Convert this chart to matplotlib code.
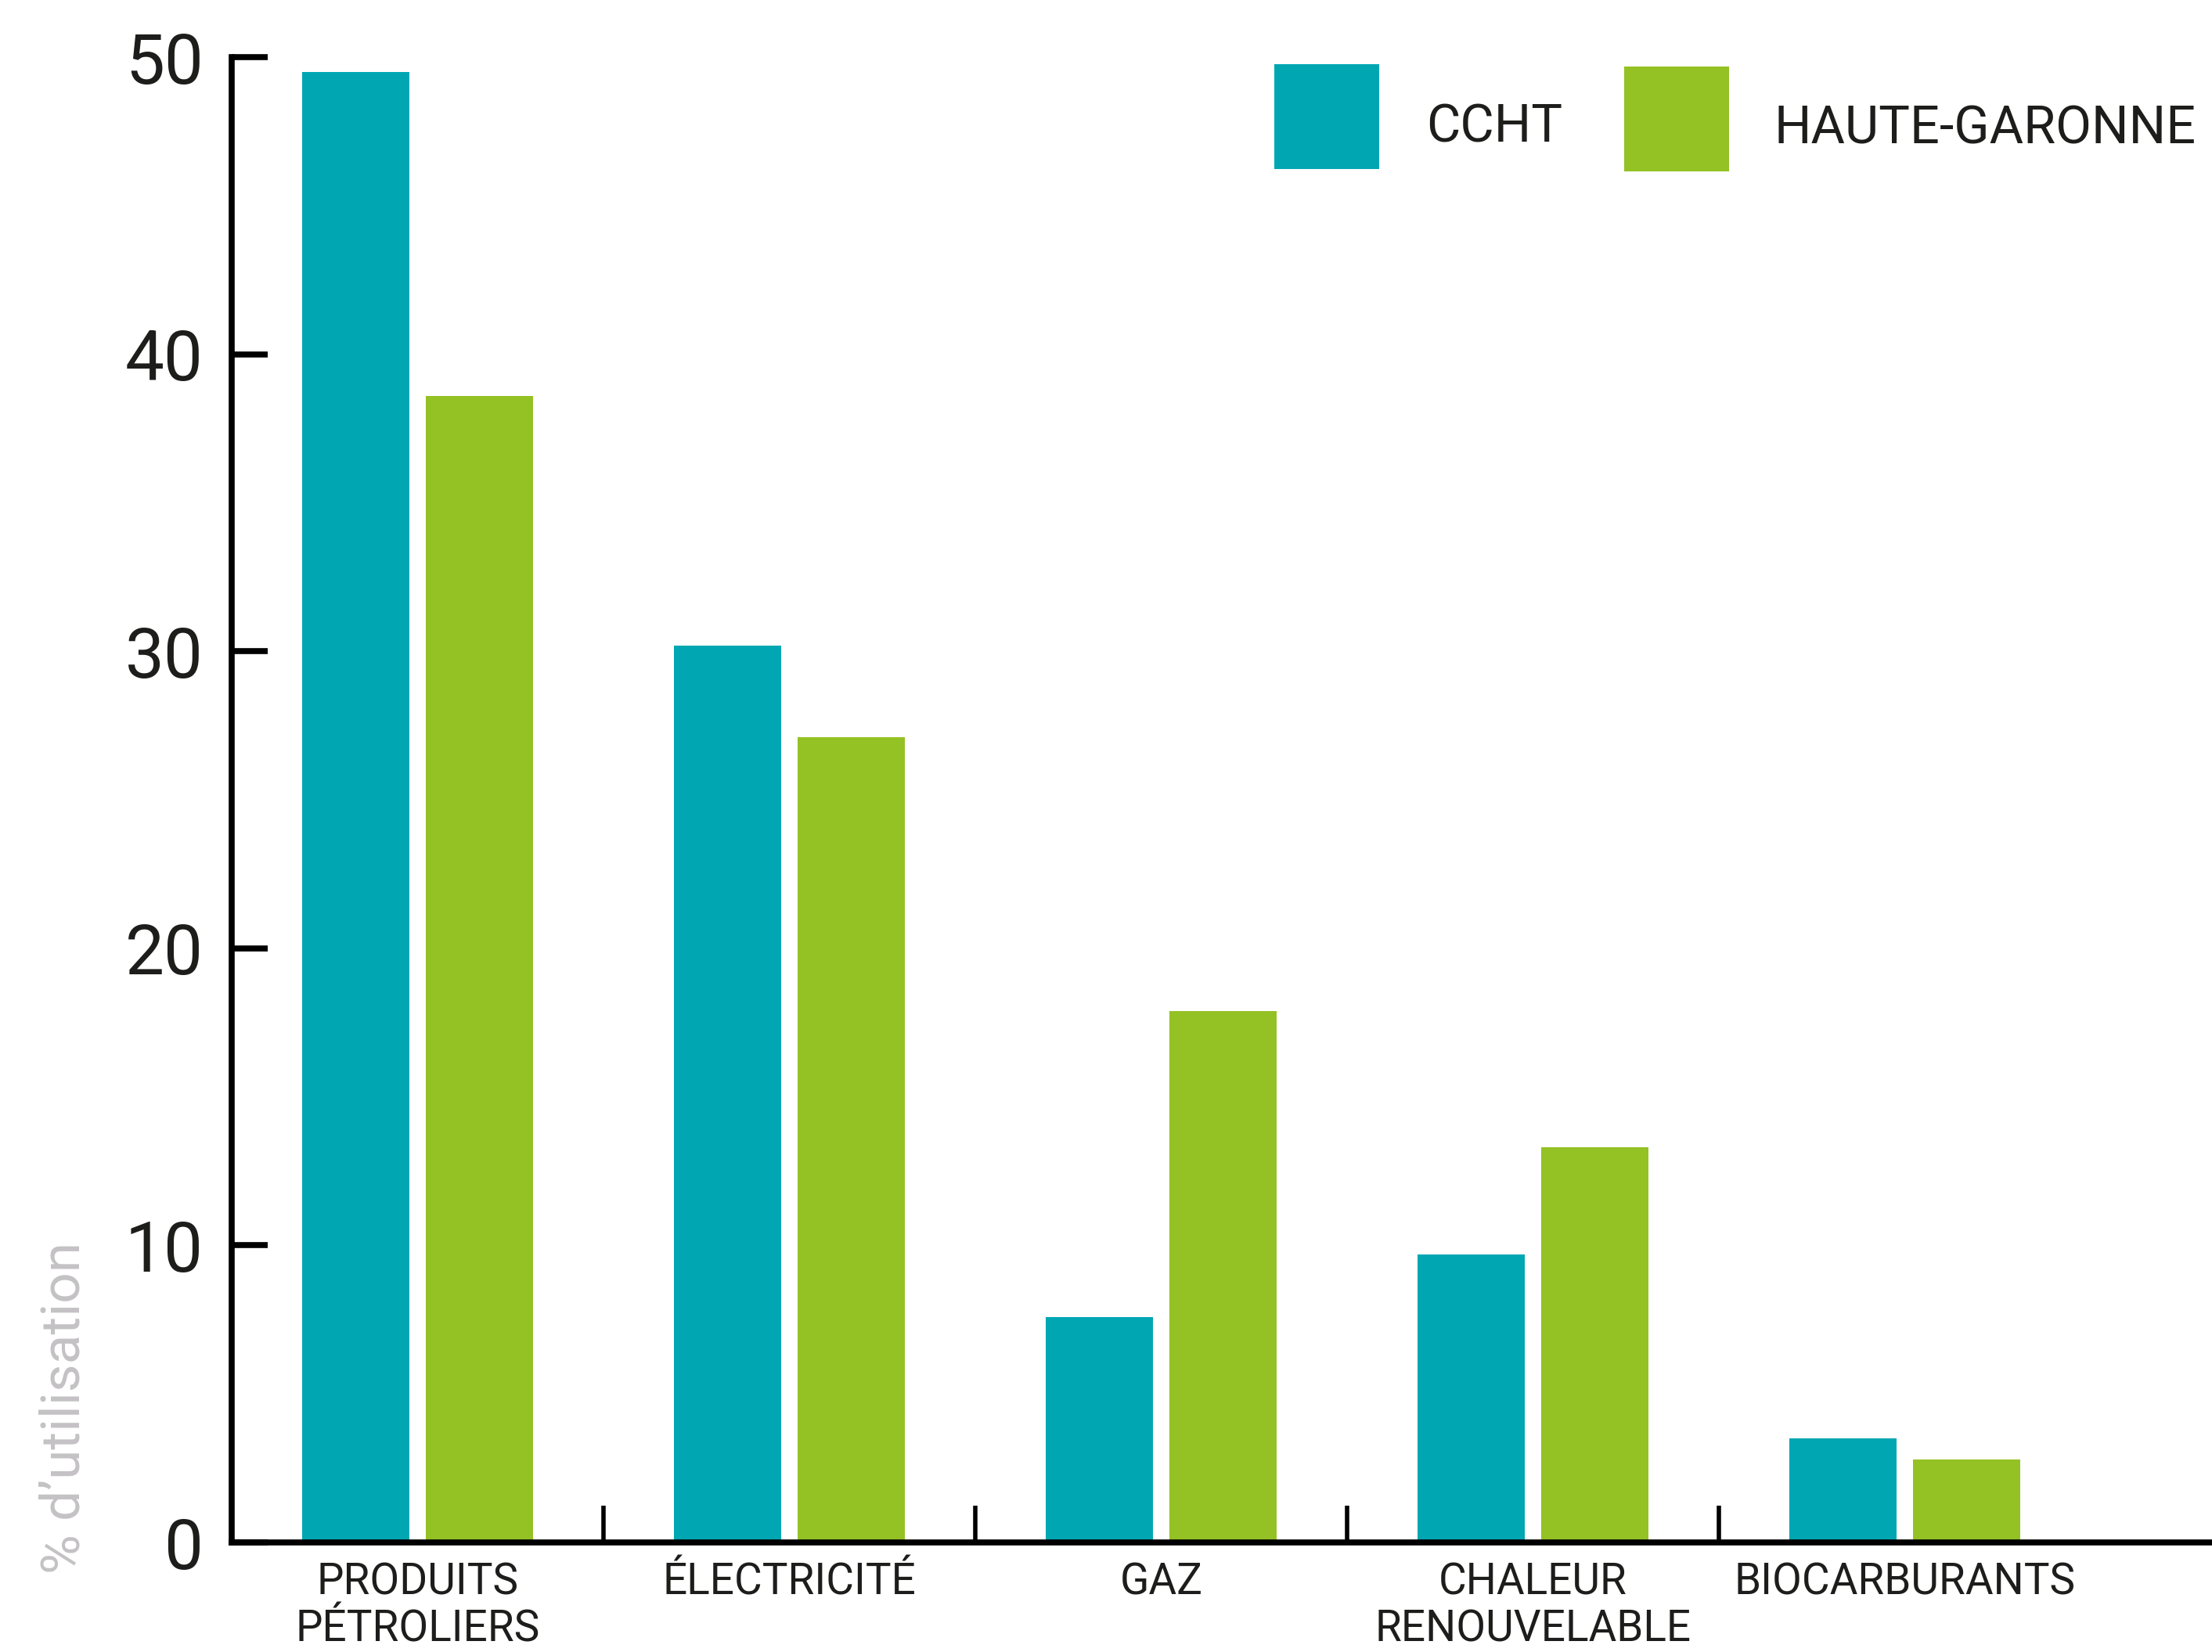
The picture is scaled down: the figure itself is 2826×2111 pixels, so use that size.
import matplotlib
matplotlib.use("Agg")
import matplotlib.pyplot as plt
import matplotlib.patches as patches
import numpy as np

plt.rcParams["font.family"] = ["Roboto", "DejaVu Sans"]

# data (% d'utilisation)
categories = ["PRODUITS\nPÉTROLIERS", "ÉLECTRICITÉ", "GAZ",
              "CHALEUR\nRENOUVELABLE", "BIOCARBURANTS"]
ccht = [49.5, 30.2, 7.6, 9.7, 3.5]
haute_garonne = [38.6, 27.1, 17.9, 13.3, 2.8]
series_names = ["CCHT", "HAUTE-GARONNE"]
yticks = [0, 10, 20, 30, 40, 50]

teal = "#00a7b3"
green = "#94c124"
dark = "#1d1d1b"

W, H = 2826, 2111
fig = plt.figure(figsize=(W / 100, H / 100), dpi=100)
ax = fig.add_axes([296 / W, 1 - 1971 / H, (W - 296) / W, (1971 - 73) / H])

x = np.arange(len(categories))
bw = 0.288
ax.bar(x - 0.166, ccht, width=bw, color=teal, linewidth=0)
ax.bar(x + 0.166, haute_garonne, width=bw, color=green, linewidth=0)

ax.set_xlim(-0.5, (W - 296) / 475 - 0.5)
ax.set_ylim(0, 50)

for s in ["top", "right"]:
    ax.spines[s].set_visible(False)
for s in ["left", "bottom"]:
    ax.spines[s].set_linewidth(5.5)
    ax.spines[s].set_color("black")
    ax.spines[s].set_capstyle("projecting")

ax.set_yticks(yticks)
ax.set_yticklabels([str(v) for v in yticks])
ax.tick_params(axis="y", direction="in", length=33, width=5.5,
               pad=26, labelsize=64, labelcolor=dark)

ax.set_xticks(x)
ax.set_xticklabels(categories, linespacing=1.15)
ax.tick_params(axis="x", which="major", length=0, pad=18,
               labelsize=39.5, labelcolor=dark)
# the last label sits a bit to the right in the original
ax.get_xticklabels()[-1].set_x(x[-1] + 0.012)
ax.set_xticks(x[:-1] + 0.5, minor=True)
ax.tick_params(axis="x", which="minor", direction="in", length=34, width=4)

# y label, placed low like in the original
fig.text(83 / W, 1 - 1799 / H, "% d’utilisation", rotation=90,
         ha="center", va="center", fontsize=50, color="#c4c2c4")

# legend drawn by hand
leg = [(series_names[0], teal, 1628, 82, 1822, 163),
       (series_names[1], green, 2075, 85, 2266, 165)]
for name, col, px, py, tx, ty in leg:
    fig.patches.append(patches.Rectangle((px / W, 1 - (py + 134) / H),
                                         134 / W, 134 / H,
                                         transform=fig.transFigure,
                                         color=col, lw=0))
    fig.text(tx / W, 1 - ty / H, name, ha="left", va="center",
             fontsize=48, color=dark)

fig.savefig("out.png", dpi=100, facecolor="white")
